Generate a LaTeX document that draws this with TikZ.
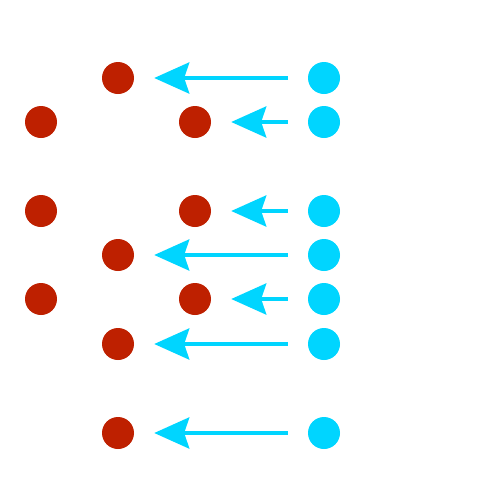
\documentclass[tikz,border=0pt]{standalone}
\usepackage{tikz}
\usetikzlibrary{arrows.meta}
\definecolor{teja}{RGB}{190,32,0}
\definecolor{celeste}{RGB}{0,213,255}
\tikzset{
  rojo/.style={circle, fill=teja, minimum size=32pt, inner sep=0pt},
  cian/.style={circle, fill=celeste, minimum size=32pt, inner sep=0pt},
  fl/.style={-{Stealth[length=35pt, width=31pt, inset=5pt]}, line width=4pt, celeste, shorten <=20pt, shorten >=20pt},
}
\begin{document}
\begin{tikzpicture}[x=1pt, y=-1pt]
  \useasboundingbox (0,0) rectangle (500,504);
  % fila 1
  \node[rojo] (r1) at (118,78) {};
  \node[cian] (c1) at (324,78) {};
  % fila 2
  \node[rojo] (r2a) at (41,122) {};
  \node[rojo] (r2) at (195,122) {};
  \node[cian] (c2) at (324,122) {};
  % fila 3
  \node[rojo] (r3a) at (41,211) {};
  \node[rojo] (r3) at (195,211) {};
  \node[cian] (c3) at (324,211) {};
  % fila 4
  \node[rojo] (r4) at (118,255) {};
  \node[cian] (c4) at (324,255) {};
  % fila 5
  \node[rojo] (r5a) at (41,299) {};
  \node[rojo] (r5) at (195,299) {};
  \node[cian] (c5) at (324,299) {};
  % fila 6
  \node[rojo] (r6) at (118,344) {};
  \node[cian] (c6) at (324,344) {};
  % fila 7
  \node[rojo] (r7) at (118,433) {};
  \node[cian] (c7) at (324,433) {};
  \draw[fl] (c1) -- (r1);
  \draw[fl] (c2) -- (r2);
  \draw[fl] (c3) -- (r3);
  \draw[fl] (c4) -- (r4);
  \draw[fl] (c5) -- (r5);
  \draw[fl] (c6) -- (r6);
  \draw[fl] (c7) -- (r7);
\end{tikzpicture}
\end{document}
